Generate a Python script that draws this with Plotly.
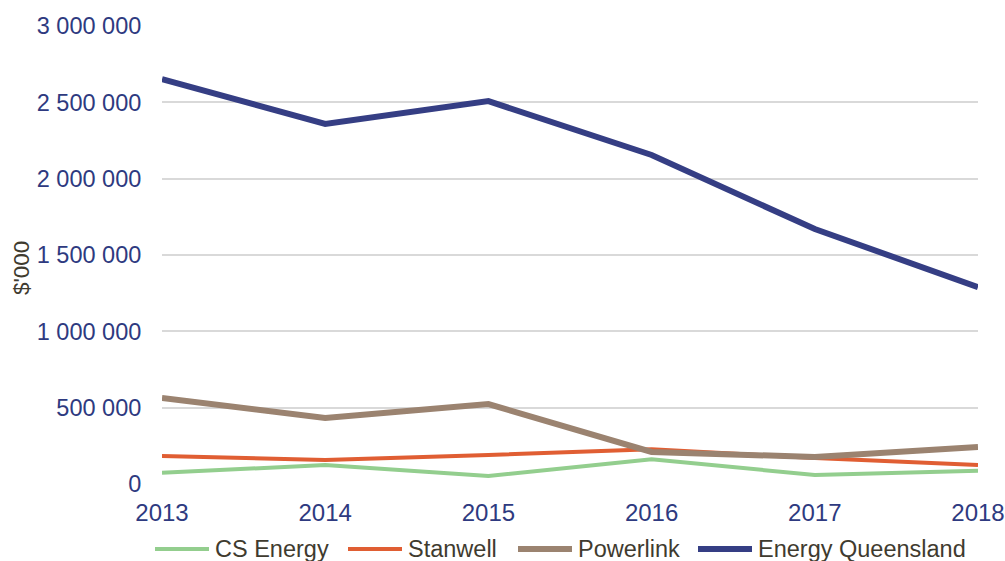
import plotly.graph_objects as go

years = [2013, 2014, 2015, 2016, 2017, 2018]
cs_energy = [74000, 124000, 52000, 162000, 59000, 87000]
stanwell = [183000, 157000, 190000, 227000, 170000, 124000]
powerlink = [563000, 432000, 524000, 210000, 177000, 242000]
energy_qld = [2652000, 2358000, 2508000, 2155000, 1670000, 1290000]

y_ticks = [0, 500000, 1000000, 1500000, 2000000, 2500000, 3000000]

names = ["CS Energy", "Stanwell", "Powerlink", "Energy Queensland"]
values = [cs_energy, stanwell, powerlink, energy_qld]
colors = ["#93CE8E", "#E05E33", "#9B8370", "#353E84"]
widths = [4, 4, 6, 6]

W, H = 1005, 561
PL, PT, PR, PB = 162, 26, 978, 484  # plot area in window pixels
ML, MT = PL, PT
PW, PH = PR - PL, PB - PT
MR, MB = W - ML - PW, H - MT - PH

legend_line_start_px = [155, 348, 518, 698]
legend_line_len_px = 54
legend_y_px = 549

FONT = "Liberation Sans, Arial, sans-serif"
TICK_COLOR = "#2E3A80"
TEXT_DARK = "#3F3B2F"

fig = go.Figure()
for name, vals, color, w in zip(names, values, colors, widths):
    fig.add_trace(go.Scatter(x=years, y=vals, name=name, mode="lines",
                             line=dict(color=color, width=w), showlegend=False))

def px_x(px):
    return (px - PL) / PW

def px_y(py):
    return (PB - py) / PH

shapes = []
annotations = []
for name, color, w, x0 in zip(names, colors, widths, legend_line_start_px):
    shapes.append(dict(type="line", xref="paper", yref="paper",
                       x0=px_x(x0), x1=px_x(x0 + legend_line_len_px),
                       y0=px_y(legend_y_px), y1=px_y(legend_y_px),
                       line=dict(color=color, width=w)))
    annotations.append(dict(text=name, xref="paper", yref="paper",
                            x=px_x(x0 + legend_line_len_px + 4), y=px_y(legend_y_px),
                            xanchor="left", yanchor="middle", showarrow=False,
                            font=dict(family=FONT, size=23.5, color=TEXT_DARK)))

annotations.append(dict(text="$'000", xref="paper", yref="paper",
                        x=px_x(21), y=px_y(268), textangle=-90,
                        xanchor="center", yanchor="middle", showarrow=False,
                        font=dict(family=FONT, size=22.5, color=TEXT_DARK)))

fig.update_layout(
    width=W, height=H,
    paper_bgcolor="white", plot_bgcolor="white",
    margin=dict(l=ML, r=MR, t=MT, b=MB, pad=0),
    separators=". ",
    font=dict(family=FONT, size=23, color=TICK_COLOR),
    showlegend=False,
    shapes=shapes,
    annotations=annotations,
    xaxis=dict(range=[2013, 2018], tickvals=years, ticktext=[str(y) for y in years],
               showgrid=False, zeroline=False, showline=False, automargin=False,
               ticks="outside", ticklen=7, tickcolor="rgba(0,0,0,0)",
               ticklabeloverflow="allow",
               tickfont=dict(family=FONT, size=24, color=TICK_COLOR)),
    yaxis=dict(range=[0, 3000000], tickvals=y_ticks, tickformat=",d",
               showgrid=True, gridcolor="#D9D9D9", gridwidth=1.5,
               zeroline=False, showline=False, automargin=False,
               ticks="outside", ticklen=15, tickcolor="rgba(0,0,0,0)",
               tickfont=dict(family=FONT, size=23.5, color=TICK_COLOR)),
)

# remove the browser's default 8px page margin so the figure fills the window
fig.write_html("out.html",
               config={"displayModeBar": False},
               post_script="document.body.style.margin='0';document.body.style.overflow='hidden';")
